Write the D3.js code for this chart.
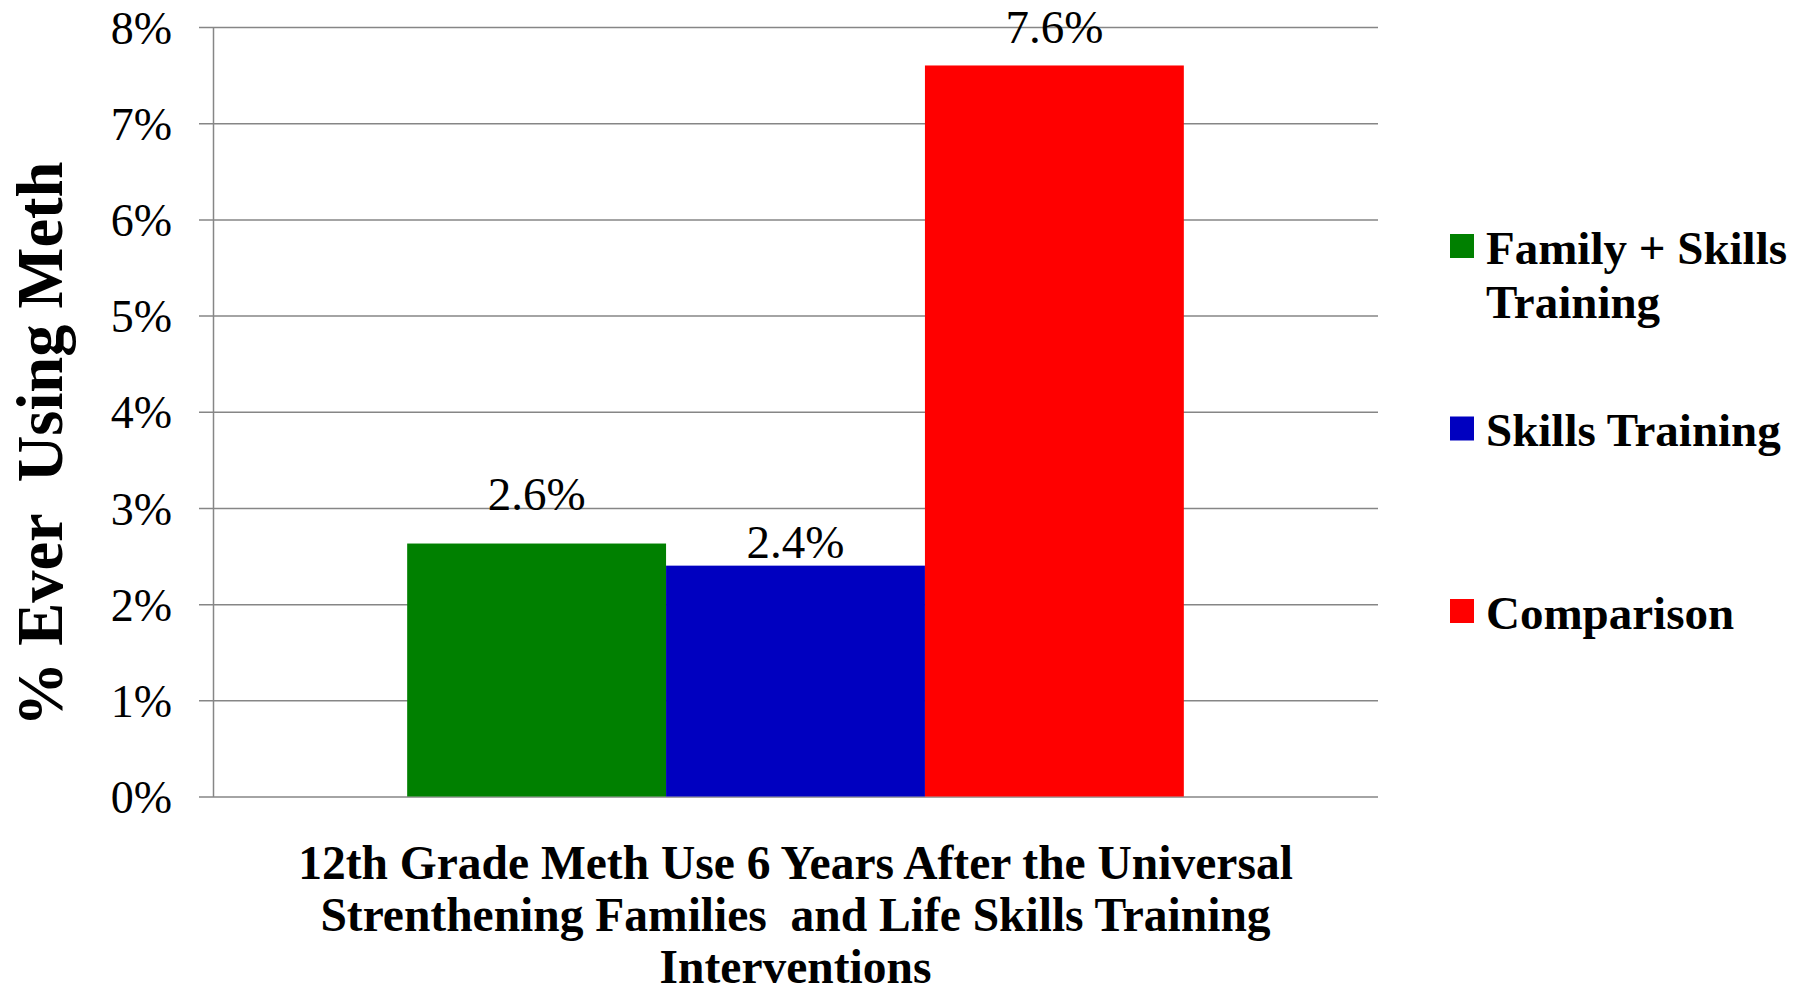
<!DOCTYPE html>
<html>
<head>
<meta charset="utf-8">
<script src="https://cdn.jsdelivr.net/npm/d3@7"></script>
<style>
  html, body { margin: 0; padding: 0; background: #fff; }
  svg { display: block; }
  text { font-family: "Liberation Serif", "Times New Roman", serif; white-space: pre; }
</style>
</head>
<body>
<svg id="chart" width="1806" height="995"></svg>
<script>
// ---- data ----
const categories = ["12th Grade Meth Use"];
const seriesNames = ["Family + Skills Training", "Skills Training", "Comparison"];
const seriesValues = [0.0263, 0.024, 0.076];
const seriesColors = ["#008000", "#0000C0", "#FF0000"];
const tickValues = [0, 0.01, 0.02, 0.03, 0.04, 0.05, 0.06, 0.07, 0.08];
const yAxisTitle = "% Ever  Using Meth";
const xAxisTitleLines = [
  "12th Grade Meth Use 6 Years After the Universal",
  "Strenthening Families  and Life Skills Training",
  "Interventions"
];

// ---- layout ----
const plot = { left: 213, right: 1378, top: 27, bottom: 796.5 };
const labelOffsets = [34, 8, 22];
const svg = d3.select("#chart");

const y = d3.scaleLinear().domain([0, 0.08]).range([plot.bottom, plot.top]);
const x0 = d3.scaleBand().domain(categories).range([plot.left, plot.right])
  .paddingInner(0).paddingOuter(0.25);
const x1 = d3.scaleBand().domain(seriesNames).range([0, x0.bandwidth()]).padding(0);

// gridlines + y axis
const yAxis = d3.axisLeft(y).tickValues(tickValues)
  .tickFormat(d3.format(".0%"))
  .tickSize(-(plot.right - plot.left)).tickSizeOuter(0).tickPadding(41);
const gy = svg.append("g").attr("transform", `translate(${plot.left},0)`).call(yAxis);
gy.attr("font-family", null);
gy.select(".domain").attr("stroke", "#868686").attr("stroke-width", 1.5);
gy.selectAll(".tick line").attr("x1", -14).attr("stroke", "#868686").attr("stroke-width", 1.5);
gy.selectAll(".tick text")
  .attr("font-family", '"Liberation Serif", "Times New Roman", serif')
  .attr("font-size", 46).attr("fill", "#000").attr("dy", "0.35em");

// bars
const data = seriesNames.map((s, i) => ({ cat: categories[0], name: s, value: seriesValues[i], color: seriesColors[i], i }));
svg.append("g").selectAll("rect").data(data).join("rect")
  .attr("x", d => x0(d.cat) + x1(d.name))
  .attr("width", x1.bandwidth())
  .attr("y", d => y(d.value))
  .attr("height", d => y(0) - y(d.value))
  .attr("fill", d => d.color);

// data labels
svg.append("g").selectAll("text").data(data).join("text")
  .attr("x", d => x0(d.cat) + x1(d.name) + x1.bandwidth() / 2)
  .attr("y", d => y(d.value) - labelOffsets[d.i])
  .attr("text-anchor", "middle")
  .attr("font-size", 47)
  .attr("fill", "#000")
  .text(d => d3.format(".1%")(d.value));

// y axis title
svg.append("text")
  .attr("transform", `translate(62,444) rotate(-90)`)
  .attr("text-anchor", "middle")
  .attr("font-size", 64.5)
  .attr("font-weight", "bold")
  .text(yAxisTitle);

// x axis title
const xt = svg.append("text").attr("text-anchor", "middle")
  .attr("font-size", 47.5).attr("font-weight", "bold");
xAxisTitleLines.forEach((line, i) => {
  xt.append("tspan").attr("x", (plot.left + plot.right) / 2).attr("y", 879 + i * 52).text(line);
});

// legend
const legendX = 1450, legendTop = 234, legendStep = 182.5, legendMaxW = 330;
const lg = svg.append("g").selectAll("g").data(data).join("g")
  .attr("transform", d => `translate(${legendX},${legendTop + d.i * legendStep})`);
lg.append("rect").attr("width", 24).attr("height", 24).attr("fill", d => d.color);
lg.append("text")
  .attr("x", 36).attr("y", 29.5)
  .attr("font-size", 47).attr("font-weight", "bold")
  .each(function(d) {
    const t = d3.select(this);
    const words = d.name.split(" ");
    let line = [];
    let tspan = t.append("tspan").attr("x", 36).attr("dy", 0);
    words.forEach(w => {
      line.push(w);
      tspan.text(line.join(" "));
      if (tspan.node().getComputedTextLength() > legendMaxW && line.length > 1) {
        line.pop();
        tspan.text(line.join(" "));
        line = [w];
        tspan = t.append("tspan").attr("x", 36).attr("dy", 54).text(w);
      }
    });
  });
</script>
</body>
</html>
